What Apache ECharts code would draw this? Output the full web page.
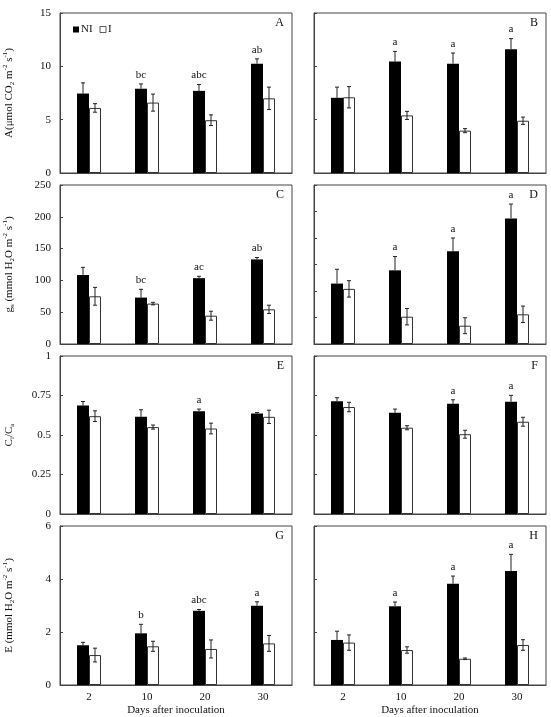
<!DOCTYPE html>
<html>
<head>
<meta charset="utf-8">
<script src="https://cdn.jsdelivr.net/npm/echarts@6/dist/echarts.min.js"></script>
<style>
  html, body { margin: 0; padding: 0; background: #fff; }
  #main { width: 551px; height: 717px; }
</style>
</head>
<body>
<div id="main"></div>
<script>
let days = ['2', '10', '20', '30'];

// A - net photosynthesis
let niA = [7.45, 7.9, 7.7, 10.25];
let niAErr = [1.0, 0.45, 0.6, 0.45];
let iA = [6.1, 6.6, 4.95, 7.0];
let iAErr = [0.4, 0.8, 0.5, 1.05];
let letA = ['', 'bc', 'abc', 'ab'];

// B
let niB = [7.05, 10.45, 10.25, 11.6];
let niBErr = [1.0, 0.95, 1.0, 1.0];
let iB = [7.1, 5.4, 3.97, 4.9];
let iBErr = [1.0, 0.38, 0.19, 0.34];
let letB = ['', 'a', 'a', 'a'];

// C - stomatal conductance
let niC = [108.5, 73, 103.5, 133];
let niCErr = [12, 13, 3, 3];
let iC = [75, 63.5, 44.5, 54.5];
let iCErr = [14, 2, 7, 6.5];
let letC = ['', 'bc', 'ac', 'ab'];

// D
let niD = [114, 139, 175, 237];
let niDErr = [27, 26, 25, 27];
let iD = [104, 51.5, 34.5, 56];
let iDErr = [15.5, 15.5, 15, 15.5];
let letD = ['', 'a', 'a', 'a'];

// E - Ci/Ca
let niE = [0.687, 0.615, 0.651, 0.636];
let niEErr = [0.025, 0.045, 0.013, 0.006];
let iE = [0.619, 0.55, 0.541, 0.615];
let iEErr = [0.034, 0.013, 0.034, 0.042];
let letE = ['', '', 'a', ''];

// F
let niF = [0.713, 0.641, 0.698, 0.711];
let niFErr = [0.023, 0.023, 0.025, 0.04];
let iF = [0.677, 0.546, 0.505, 0.584];
let iFErr = [0.03, 0.013, 0.025, 0.028];
let letF = ['', '', 'a', 'a'];

// G - transpiration
let niG = [1.5, 1.95, 2.8, 2.99];
let niGErr = [0.11, 0.34, 0.05, 0.15];
let iG = [1.13, 1.46, 1.36, 1.57];
let iGErr = [0.26, 0.19, 0.34, 0.3];
let letG = ['', 'b', 'abc', 'a'];

// H
let niH = [1.7, 2.97, 3.82, 4.3];
let niHErr = [0.33, 0.16, 0.29, 0.63];
let iH = [1.6, 1.32, 0.99, 1.51];
let iHErr = [0.29, 0.12, 0.03, 0.2];
let letH = ['', 'a', 'a', 'a'];

let yNames = [
  '{n|A(μmol CO}{b|2}{n| m}{t|-2}{n| s}{t|-1}{n|)}',
  '{n|g}{b|s}{n| (mmol H}{b|2}{n|O m}{t|-2}{n| s}{t|-1}{n|)}',
  '{n|C}{b|i}{n|/C}{b|a}',
  '{n|E (mmol H}{b|2}{n|O m}{t|-2}{n| s}{t|-1}{n|)}'
];
let xName = 'Days after inoculation';

let FONT = '"Liberation Serif", "Times New Roman", serif';
let INK = '#111';
let LINE = '#444';
let COL_LEFT = [60, 314];
let GRID_W = 232;
let ROW_TOP = [13, 185, 356, 526];
let ROW_H = [160, 159, 158, 159];
let BAR_W = 12;

let panels = [
  { tag: 'A', row: 0, col: 0, ni: niA, niErr: niAErr, i: iA, iErr: iAErr, letters: letA, max: 15, interval: 5 },
  { tag: 'B', row: 0, col: 1, ni: niB, niErr: niBErr, i: iB, iErr: iBErr, letters: letB, max: 15, interval: 5 },
  { tag: 'C', row: 1, col: 0, ni: niC, niErr: niCErr, i: iC, iErr: iCErr, letters: letC, max: 250, interval: 50 },
  { tag: 'D', row: 1, col: 1, ni: niD, niErr: niDErr, i: iD, iErr: iDErr, letters: letD, max: 300, interval: 50 },
  { tag: 'E', row: 2, col: 0, ni: niE, niErr: niEErr, i: iE, iErr: iEErr, letters: letE, max: 1, interval: 0.25 },
  { tag: 'F', row: 2, col: 1, ni: niF, niErr: niFErr, i: iF, iErr: iFErr, letters: letF, max: 1, interval: 0.25 },
  { tag: 'G', row: 3, col: 0, ni: niG, niErr: niGErr, i: iG, iErr: iGErr, letters: letG, max: 6, interval: 2 },
  { tag: 'H', row: 3, col: 1, ni: niH, niErr: niHErr, i: iH, iErr: iHErr, letters: letH, max: 6, interval: 2 }
];

function errorBars (letters) {
  return function (params, api) {
    let c = api.value(0);
    let ni = api.value(1), ne = api.value(2), iv = api.value(3), ie = api.value(4);
    let base = api.coord([c, ni]);
    let niTop = api.coord([c, ni + ne])[1];
    let iTop = api.coord([c, iv + ie])[1];
    let iBot = api.coord([c, iv - ie])[1];
    let x1 = base[0] - BAR_W / 2;
    let x2 = base[0] + BAR_W / 2;
    let st = { stroke: '#222', lineWidth: 1 };
    let kids = [
      { type: 'line', shape: { x1: x1, y1: base[1], x2: x1, y2: niTop }, style: st },
      { type: 'line', shape: { x1: x1 - 2, y1: niTop, x2: x1 + 2, y2: niTop }, style: st },
      { type: 'line', shape: { x1: x2, y1: iTop, x2: x2, y2: iBot }, style: st },
      { type: 'line', shape: { x1: x2 - 2, y1: iTop, x2: x2 + 2, y2: iTop }, style: st },
      { type: 'line', shape: { x1: x2 - 2, y1: iBot, x2: x2 + 2, y2: iBot }, style: st }
    ];
    if (letters[c]) {
      kids.push({
        type: 'text',
        style: {
          text: letters[c], x: x1, y: niTop - 9,
          align: 'center', verticalAlign: 'middle',
          font: '11px ' + FONT, fill: INK
        }
      });
    }
    return { type: 'group', children: kids };
  };
}

let grid = [], xAxis = [], yAxis = [], series = [], graphic = [];
panels.forEach(function (p, k) {
  let left = COL_LEFT[p.col];
  let top = ROW_TOP[p.row];
  let bottomRow = p.row === 3;
  grid.push({
    left: left, top: top, width: GRID_W, height: ROW_H[p.row],
    show: true, borderColor: LINE, borderWidth: 1, backgroundColor: 'transparent'
  });
  xAxis.push({
    type: 'category', gridIndex: k, data: days,
    axisLine: { lineStyle: { color: LINE } },
    axisTick: { inside: true, length: 3, lineStyle: { color: LINE } },
    axisLabel: { show: bottomRow, margin: 7, color: INK, fontFamily: FONT, fontSize: 11 },
    name: bottomRow ? xName : '',
    nameLocation: 'middle', nameGap: 20,
    nameTextStyle: { color: INK, fontFamily: FONT, fontSize: 11 }
  });
  yAxis.push({
    type: 'value', gridIndex: k, min: 0, max: p.max, interval: p.interval,
    axisLine: { show: true, lineStyle: { color: LINE } },
    axisTick: { show: true, inside: true, length: 3, lineStyle: { color: LINE } },
    axisLabel: { show: p.col === 0, margin: 9, color: INK, fontFamily: FONT, fontSize: 11 },
    splitLine: { show: false },
    name: p.col === 0 ? yNames[p.row] : '',
    nameLocation: 'middle', nameGap: 44, nameRotate: 90,
    nameTextStyle: {
      color: INK, fontFamily: FONT,
      rich: {
        n: { fontSize: 11, lineHeight: 14, fontFamily: FONT, color: INK },
        b: { fontSize: 7, lineHeight: 14, fontFamily: FONT, color: INK, verticalAlign: 'bottom' },
        t: { fontSize: 7, lineHeight: 14, fontFamily: FONT, color: INK, verticalAlign: 'top' }
      }
    }
  });
  series.push({
    type: 'bar', name: 'NI', xAxisIndex: k, yAxisIndex: k,
    data: p.ni, barWidth: BAR_W, barGap: '0%',
    itemStyle: { color: '#000' }
  });
  series.push({
    type: 'bar', name: 'I', xAxisIndex: k, yAxisIndex: k,
    data: p.i, barWidth: BAR_W, barGap: '0%',
    itemStyle: { color: '#fff', borderColor: '#333', borderWidth: 1 }
  });
  series.push({
    type: 'custom', xAxisIndex: k, yAxisIndex: k, z: 10,
    renderItem: errorBars(p.letters),
    data: days.map(function (d, j) {
      return [j, p.ni[j], p.niErr[j], p.i[j], p.iErr[j]];
    })
  });
  graphic.push({
    type: 'text',
    style: {
      text: p.tag, x: left + GRID_W - 8, y: top + 10,
      align: 'right', verticalAlign: 'middle',
      font: '12px ' + FONT, fill: INK
    }
  });
});

let chart = echarts.init(document.getElementById('main'));
chart.setOption({
  animation: false,
  backgroundColor: '#fff',
  legend: {
    data: ['NI', 'I'],
    left: 68, top: 19,
    itemWidth: 6, itemHeight: 6, itemGap: 7,
    icon: 'rect',
    itemStyle: { borderWidth: 0.8 },
    textStyle: { color: INK, fontFamily: FONT, fontSize: 11, padding: [0, 0, 0, -3] }
  },
  grid: grid,
  xAxis: xAxis,
  yAxis: yAxis,
  series: series,
  graphic: graphic
});
</script>
</body>
</html>
